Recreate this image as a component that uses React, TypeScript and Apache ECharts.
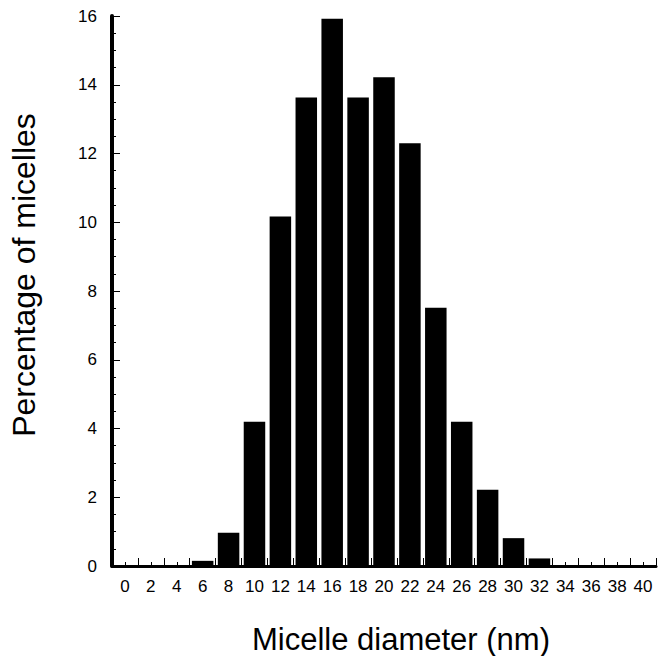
import React, { useEffect, useRef } from "react";
import * as echarts from "echarts";

const categories = ["0","2","4","6","8","10","12","14","16","18","20","22","24","26","28","30","32","34","36","38","40"];
const percentages = [0, 0, 0, 0.15, 0.97, 4.2, 10.17, 13.63, 15.92, 13.63, 14.22, 12.3, 7.51, 4.2, 2.22, 0.81, 0.22, 0, 0, 0, 0];
const yTicks = { min: 0, max: 16, interval: 2 };
const xTitle = "Micelle diameter (nm)";
const yTitle = "Percentage of micelles";

const FONT = "'Liberation Sans', Arial, sans-serif";

export default function App() {
  const ref = useRef<HTMLDivElement>(null);
  useEffect(() => {
    document.body.style.margin = "0";
    if (!ref.current) return;
    const chart = echarts.init(ref.current, null, { renderer: "svg" });
    chart.setOption({
      animation: false,
      backgroundColor: "#ffffff",
      grid: { left: 112, right: 7, top: 16, bottom: 90, containLabel: false, outerBoundsMode: "none" },
      graphic: [
        {
          type: "text",
          x: 401,
          y: 639,
          style: { text: xTitle, font: `31px ${FONT}`, fill: "#000", textAlign: "center", textVerticalAlign: "middle" },
        },
        {
          type: "text",
          x: 24,
          y: 275,
          rotation: Math.PI / 2,
          style: { text: yTitle, font: `32px ${FONT}`, fill: "#000", textAlign: "center", textVerticalAlign: "middle" },
        },
      ],
      xAxis: [
        {
          type: "category",
          data: categories,
          boundaryGap: true,
          axisLine: { show: true, lineStyle: { color: "#000", width: 3 } },
          axisTick: { show: true, inside: true, length: 8, interval: 0, lineStyle: { color: "#000", width: 1 } },
          axisLabel: { interval: 0, margin: 12, fontFamily: FONT, fontSize: 17, color: "#000" },
          splitLine: { show: false },
        },
        {
          type: "category",
          data: categories,
          position: "bottom",
          boundaryGap: true,
          axisLine: { show: false },
          axisTick: { show: true, inside: true, length: 4, alignWithLabel: true, interval: 0, lineStyle: { color: "#000", width: 1 } },
          axisLabel: { show: false },
          splitLine: { show: false },
        },
      ],
      yAxis: {
        type: "value",
        min: yTicks.min,
        max: yTicks.max,
        interval: yTicks.interval,
        axisLine: { show: true, lineStyle: { color: "#000", width: 4 } },
        axisTick: { show: true, inside: true, length: 8, lineStyle: { color: "#000", width: 1 } },
        minorTick: { show: true, splitNumber: 4, length: 4, lineStyle: { color: "#000", width: 1 } },
        axisLabel: { margin: 15, fontFamily: FONT, fontSize: 17, color: "#000" },
        splitLine: { show: false },
        minorSplitLine: { show: false },
      },
      series: [
        {
          type: "bar",
          data: percentages,
          xAxisIndex: 0,
          barCategoryGap: "17%",
          itemStyle: { color: "#000" },
        },
      ],
    });
    return () => chart.dispose();
  }, []);
  return <div ref={ref} style={{ width: 663, height: 656 }} />;
}
